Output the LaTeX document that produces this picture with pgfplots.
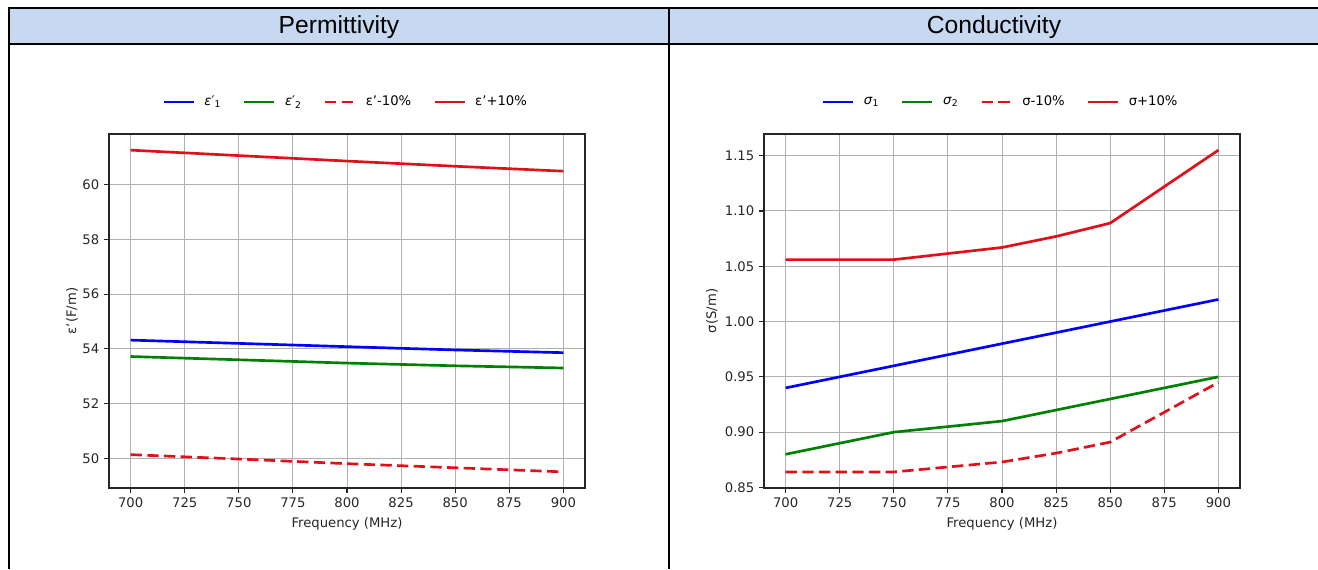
\documentclass[border=0pt]{standalone}
\usepackage{fontspec}
\setmainfont{DejaVu Sans}
\newfontfamily\hdrfont{Liberation Sans}
\usepackage{pgfplots}
\pgfplotsset{compat=1.18}

\definecolor{mplblue}{rgb}{0,0,1}
\definecolor{mplgreen}{rgb}{0,0.5,0}
\definecolor{mplred}{RGB}{225,15,25}
\definecolor{hdrblue}{RGB}{198,217,240}
\definecolor{gridgray}{RGB}{176,176,176}

\newcommand{\tickfont}{\fontsize{9.9}{12}\selectfont}

\pgfplotsset{
  cellplot/.style={
    scale only axis, width=357pt, height=265.5pt,
    xmin=690, xmax=910, xtick={700,725,...,900},
    tick align=outside, tick pos=left,
    major tick length=3.75pt,
    grid=major, grid style={gridgray, line width=0.75pt},
    axis line style={black!85, line width=1pt},
    every tick/.style={black!85, line width=0.8pt},
    tick label style={font=\tickfont, text=black!85},
    label style={font=\tickfont, text=black!85},
    /pgf/number format/assume math mode=true,
    xlabel={Frequency (MHz)},
    xlabel style={at={(axis description cs:0.5,-0.1)}, anchor=center},
    legend columns=4,
    legend style={at={(0.5,1.0904)}, anchor=center, draw=none, fill=none,
      font=\tickfont, nodes={inner xsep=3.5pt},
      /tikz/every odd column/.append style={column sep=3.5pt},
      /tikz/every even column/.append style={column sep=13pt}},
    legend image code/.code={\draw[#1] (0pt,0pt) -- (22.5pt,0pt);},
    every axis plot/.append style={line width=2pt},
  },
  minus/.style={mplred, dash pattern=on 8.5pt off 4pt},
}

\begin{document}
\begin{tikzpicture}
\path[use as bounding box] (0,0) rectangle (988.5pt,426.75pt);
% table frame
\fill[hdrblue] (6.75pt,393.75pt) rectangle (988.5pt,420.75pt);
\draw[line width=1.5pt] (6pt,420.75pt) -- (988.5pt,420.75pt);
\draw[line width=1.5pt] (6.75pt,393.75pt) -- (988.5pt,393.75pt);
\draw[line width=1.5pt] (6.75pt,421.5pt) -- (6.75pt,0pt);
\draw[line width=1.5pt] (501.75pt,421.5pt) -- (501.75pt,0pt);
\node[font=\hdrfont\fontsize{18.5}{22}\selectfont] at (254.25pt,406.5pt) {Permittivity};
\node[font=\hdrfont\fontsize{18.5}{22}\selectfont] at (745.5pt,406.5pt) {Conductivity};

% permittivity
\begin{axis}[cellplot, at={(81.75pt,60.75pt)},
  ymin=48.91, ymax=61.86, ytick={50,52,...,60},
  ylabel={ε’(F/m)},
  ylabel style={at={(axis description cs:-0.0777,0.5)}, anchor=center}]
\addplot[mplblue] coordinates {(700,54.32) (750,54.20) (800,54.08) (850,53.96) (900,53.86)};
\addlegendentry{\textit{ε}′\textsubscript{1}}
\addplot[mplgreen] coordinates {(700,53.72) (750,53.60) (800,53.48) (850,53.38) (900,53.30)};
\addlegendentry{\textit{ε}′\textsubscript{2}}
\addplot[minus] coordinates {(700,50.13) (750,49.97) (800,49.80) (850,49.65) (900,49.50)};
\addlegendentry{ε’-10\%}
\addplot[mplred] coordinates {(700,61.27) (750,61.07) (800,60.87) (850,60.68) (900,60.50)};
\addlegendentry{ε’+10\%}
\end{axis}

% conductivity
\begin{axis}[cellplot, at={(573pt,60.75pt)},
  ymin=0.8495, ymax=1.1696, ytick={0.85,0.90,...,1.16},
  yticklabel style={/pgf/number format/.cd, fixed, fixed zerofill, precision=2},
  ylabel={σ(S/m)},
  ylabel style={at={(axis description cs:-0.1092,0.5)}, anchor=center}]
\addplot[mplblue] coordinates {(700,0.94) (750,0.96) (800,0.98) (850,1.00) (900,1.02)};
\addlegendentry{\textit{σ}\textsubscript{1}}
\addplot[mplgreen] coordinates {(700,0.88) (750,0.90) (800,0.91) (850,0.93) (900,0.95)};
\addlegendentry{\textit{σ}\textsubscript{2}}
\addplot[minus] coordinates {(700,0.864) (750,0.864) (775,0.8685) (800,0.873) (825,0.881) (850,0.891) (875,0.918) (900,0.945)};
\addlegendentry{σ-10\%}
\addplot[mplred] coordinates {(700,1.056) (750,1.056) (775,1.0615) (800,1.067) (825,1.077) (850,1.089) (875,1.122) (900,1.155)};
\addlegendentry{σ+10\%}
\end{axis}
\end{tikzpicture}
\end{document}
